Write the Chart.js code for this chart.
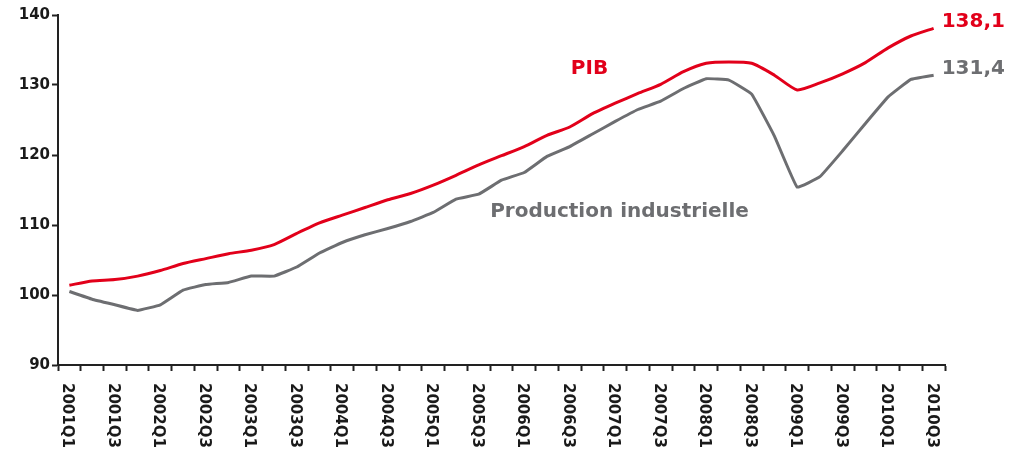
<!DOCTYPE html>
<html>
<head>
<meta charset="utf-8">
<script src="https://cdn.jsdelivr.net/npm/chart.js@4/dist/chart.umd.min.js"></script>
<style>
  html, body { margin: 0; padding: 0; background: #fff; }
  #wrap { width: 1010px; height: 450px; }
</style>
</head>
<body>
<div id="wrap"><canvas id="graphique"></canvas></div>
<script>
const trimestres = [];
for (let a = 2001; a <= 2010; a++) {
    for (let q = 1; q <= 4; q++) {
        if (a === 2010 && q > 3) break;
        trimestres.push(a + 'Q' + q);
    }
}

// indices base 100
const pib = [101.4, 102.0, 102.2, 102.7, 103.5, 104.5, 105.2, 105.9, 106.4, 107.2,
    108.8, 110.3, 111.4, 112.5, 113.6, 114.5, 115.7, 117.1, 118.6, 119.9,
    121.2, 122.8, 124.0, 125.9, 127.4, 128.8, 130.1, 131.9, 133.1, 133.3,
    133.1, 131.4, 129.3, 130.3, 131.6, 133.2, 135.3, 137.0, 138.1];

const prodIndus = [100.5, 99.4, 98.6, 97.8, 98.6, 100.7, 101.5, 101.8, 102.7, 102.7,
    104.0, 106.0, 107.5, 108.6, 109.5, 110.5, 111.8, 113.7, 114.4, 116.4,
    117.5, 119.8, 121.2, 123.0, 124.8, 126.5, 127.7, 129.5, 130.9, 130.7,
    128.7, 122.7, 115.4, 116.9, 120.6, 124.5, 128.3, 130.8, 131.4];

const ROUGE = '#e2001a';
const GRIS = '#6d6e71';
const POLICE = '"DejaVu Sans", sans-serif';

const textes = {
    id: 'textes',
    afterDraw(chart) {
        const c = chart.ctx;
        const x = chart.scales.x;
        const y = chart.scales.y;
        c.save();

        // etiquettes de l'axe x, tournees vers le bas
        c.fillStyle = '#1a1a1a';
        c.font = 'bold 15px ' + POLICE;
        c.textAlign = 'left';
        c.textBaseline = 'middle';
        trimestres.forEach((t, i) => {
            if (i % 2) return;
            c.save();
            c.translate(x.getPixelForValue(i) - 2, chart.chartArea.bottom + 18);
            c.rotate(Math.PI / 2);
            c.fillText(t, 0, 0);
            c.restore();
        });

        // valeurs finales
        const n = trimestres.length - 1;
        c.font = 'bold 20px ' + POLICE;
        c.fillStyle = ROUGE;
        c.fillText(pib[n].toFixed(1).replace('.', ','), x.getPixelForValue(n) + 8, y.getPixelForValue(pib[n]) - 7);
        c.fillStyle = GRIS;
        c.fillText(prodIndus[n].toFixed(1).replace('.', ','), x.getPixelForValue(n) + 8, y.getPixelForValue(prodIndus[n]) - 6);

        // noms des series
        c.fillStyle = ROUGE;
        c.fillText('PIB', x.getPixelForValue(22.05), y.getPixelForValue(132.3));
        c.fillStyle = GRIS;
        c.fillText('Production industrielle', x.getPixelForValue(18.5), y.getPixelForValue(111.9));
        c.restore();
    }
};

new Chart(document.getElementById('graphique'), {
    type: 'line',
    data: {
        labels: trimestres,
        datasets: [{
            label: 'PIB',
            data: pib,
            borderColor: ROUGE,
            borderWidth: 3,
            pointRadius: 0,
            tension: 0.2
        }, {
            label: 'Production industrielle',
            data: prodIndus,
            borderColor: GRIS,
            borderWidth: 3,
            pointRadius: 0,
            tension: 0.08
        }]
    },
    options: {
        responsive: true,
        maintainAspectRatio: false,
        animation: false,
        layout: { padding: { top: 15, right: 65, left: 0, bottom: 0 } },
        plugins: {
            legend: { display: false },
            tooltip: { enabled: false }
        },
        scales: {
            x: {
                offset: true,
                grid: {
                    offset: true,
                    drawOnChartArea: false,
                    tickLength: 6,
                    tickWidth: 2,
                    tickColor: '#222'
                },
                border: { color: '#222', width: 2 },
                ticks: { display: false, autoSkip: false },
                afterFit(s) { s.height = 85; }
            },
            y: {
                min: 90,
                max: 140,
                grid: {
                    drawOnChartArea: false,
                    tickLength: 6,
                    tickWidth: 2,
                    tickColor: '#222'
                },
                border: { color: '#222', width: 2 },
                ticks: {
                    stepSize: 10,
                    color: '#1a1a1a',
                    padding: 2,
                    font: { family: POLICE, size: 15, weight: 'bold' }
                },
                afterFit(s) { s.width = 58; }
            }
        }
    },
    plugins: [textes]
});
</script>
</body>
</html>
